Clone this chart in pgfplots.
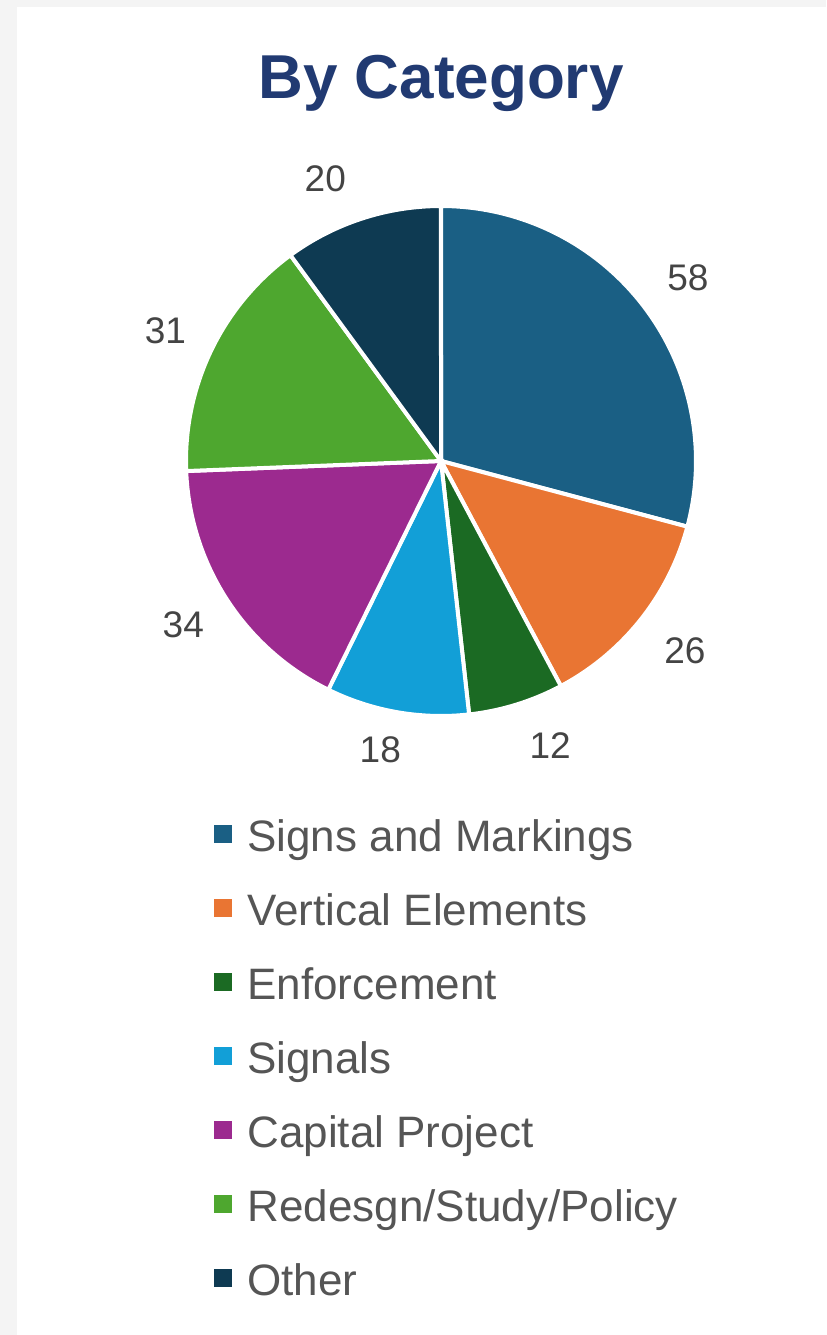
\documentclass[border=0pt]{standalone}
\usepackage{pgfplots}
\pgfplotsset{compat=1.18}
\usepackage{fontspec}
\setmainfont{Liberation Sans}
\definecolor{cA}{HTML}{1A5F84}
\definecolor{cB}{HTML}{E97533}
\definecolor{cC}{HTML}{1B6A23}
\definecolor{cD}{HTML}{129FD7}
\definecolor{cE}{HTML}{9C2A8F}
\definecolor{cF}{HTML}{4EA72F}
\definecolor{cG}{HTML}{0E3A52}
\definecolor{titleblue}{HTML}{213A72}
\definecolor{labgray}{HTML}{444444}
\definecolor{leggray}{HTML}{555555}
\definecolor{bggray}{HTML}{F4F4F4}
% data values
\def\vA{58}\def\vB{26}\def\vC{12}\def\vD{18}\def\vE{34}\def\vF{31}\def\vG{20}
\pgfmathsetmacro\tot{\vA+\vB+\vC+\vD+\vE+\vF+\vG}
\pgfmathsetmacro\k{360/\tot}
\pgfmathsetmacro\aA{90}
\pgfmathsetmacro\aB{\aA-\k*\vA}
\pgfmathsetmacro\aC{\aB-\k*\vB}
\pgfmathsetmacro\aD{\aC-\k*\vC}
\pgfmathsetmacro\aE{\aD-\k*\vD}
\pgfmathsetmacro\aF{\aE-\k*\vE}
\pgfmathsetmacro\aG{\aF-\k*\vF}
\pgfmathsetmacro\aH{\aG-\k*\vG}
\def\cx{441}\def\cy{874}\def\R{255}\def\Rl{305}
% label at mid angle of a wedge, with a small offset (dx,dy) in px
\newcommand\wlabel[5]{\node at (axis cs:{\cx+\Rl*cos((#1+#2)/2)+#3},{\cy+\Rl*sin((#1+#2)/2)+#4}) {#5};}
\begin{document}
\begin{tikzpicture}
\fill[bggray] (0,0) rectangle (413pt,667.5pt);
\fill[white] (8.5pt,0) rectangle (413pt,664pt);
\begin{axis}[
  at={(0,0)}, anchor=south west,
  width=413pt, height=667.5pt, scale only axis,
  xmin=0, xmax=826, ymin=0, ymax=1335,
  hide axis, clip=false,
  legend image code/.code={\fill[#1,draw=none] (0pt,-1.5pt) rectangle (9pt,7.5pt);},
  legend style={at={(axis cs:208,519)}, anchor=north west, draw=none, fill=none,
    font=\fontsize{22pt}{26pt}\selectfont, text=leggray,
    row sep=17pt, column sep=7.5pt,
    nodes={inner sep=0pt, text height=15.5pt, text depth=4.5pt}},
  legend cell align=left,
]
\addplot[fill=cA, draw=white, line width=2pt, domain=\aB:\aA, samples=80, variable=\t]
  ({\cx+\R*cos(\t)},{\cy+\R*sin(\t)}) -- (axis cs:\cx,\cy) -- cycle;
\addlegendentry{Signs and Markings}
\addplot[fill=cB, draw=white, line width=2pt, domain=\aC:\aB, samples=50, variable=\t]
  ({\cx+\R*cos(\t)},{\cy+\R*sin(\t)}) -- (axis cs:\cx,\cy) -- cycle;
\addlegendentry{Vertical Elements}
\addplot[fill=cC, draw=white, line width=2pt, domain=\aD:\aC, samples=30, variable=\t]
  ({\cx+\R*cos(\t)},{\cy+\R*sin(\t)}) -- (axis cs:\cx,\cy) -- cycle;
\addlegendentry{Enforcement}
\addplot[fill=cD, draw=white, line width=2pt, domain=\aE:\aD, samples=40, variable=\t]
  ({\cx+\R*cos(\t)},{\cy+\R*sin(\t)}) -- (axis cs:\cx,\cy) -- cycle;
\addlegendentry{Signals}
\addplot[fill=cE, draw=white, line width=2pt, domain=\aF:\aE, samples=60, variable=\t]
  ({\cx+\R*cos(\t)},{\cy+\R*sin(\t)}) -- (axis cs:\cx,\cy) -- cycle;
\addlegendentry{Capital Project}
\addplot[fill=cF, draw=white, line width=2pt, domain=\aG:\aF, samples=60, variable=\t]
  ({\cx+\R*cos(\t)},{\cy+\R*sin(\t)}) -- (axis cs:\cx,\cy) -- cycle;
\addlegendentry{Redesgn/Study/Policy}
\addplot[fill=cG, draw=white, line width=2pt, domain=\aH:\aG, samples=40, variable=\t]
  ({\cx+\R*cos(\t)},{\cy+\R*sin(\t)}) -- (axis cs:\cx,\cy) -- cycle;
\addlegendentry{Other}
% data labels
\begin{scope}[every node/.style={font=\fontsize{18.5pt}{21pt}\selectfont, text=labgray}]
\wlabel{\aA}{\aB}{5}{-3}{\vA}
\wlabel{\aB}{\aC}{5}{0}{\vB}
\wlabel{\aC}{\aD}{19}{7}{\vC}
\wlabel{\aD}{\aE}{-8}{12}{\vD}
\wlabel{\aE}{\aF}{-2}{2}{\vE}
\wlabel{\aF}{\aG}{-1}{-2}{\vF}
\wlabel{\aG}{\aH}{-21}{-8}{\vG}
\end{scope}
\node[anchor=base, text=titleblue, font=\fontsize{31pt}{36pt}\selectfont\bfseries] at (axis cs:441,1236) {By Category};
\end{axis}
\end{tikzpicture}
\end{document}
